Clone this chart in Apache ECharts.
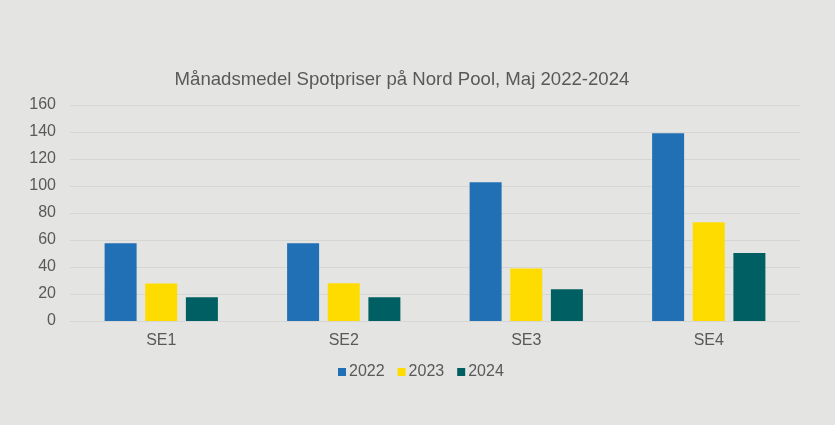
<!DOCTYPE html>
<html><head><meta charset="utf-8">
<script src="https://cdn.jsdelivr.net/npm/echarts@6/dist/echarts.min.js"></script>
<style>html,body{margin:0;padding:0;background:#e4e4e2;}#c{width:835px;height:425px;}</style>
</head><body><div id="c"></div>
<script>
const categories = ['SE1', 'SE2', 'SE3', 'SE4'];
const seriesNames = ['2022', '2023', '2024'];
const values2022 = [57.6, 57.6, 102.7, 139.0];
const values2023 = [27.7, 27.9, 38.9, 73.2];
const values2024 = [17.6, 17.6, 23.5, 50.4];
const colors = ['#2170b6', '#ffdc00', '#005f63'];
const allValues = [values2022, values2023, values2024];

const chart = echarts.init(document.getElementById('c'));
const font = 'Liberation Sans, Arial, sans-serif';
chart.setOption({
  backgroundColor: '#e4e4e2',
  animation: false,
  title: {
    text: 'Månadsmedel Spotpriser på Nord Pool, Maj 2022-2024',
    left: 397, top: 65, textAlign: 'center',
    textStyle: { fontFamily: font, fontSize: 18.6, fontWeight: 'normal', color: '#595959' }
  },
  legend: {
    data: seriesNames, left: 333, top: 359,
    itemWidth: 8, itemHeight: 8, itemGap: 13,
    icon: 'rect',
    textStyle: { fontFamily: font, fontSize: 16, color: '#595959', padding: [0,0,0,-2] }
  },
  grid: { left: 70, right: 35, top: 105, bottom: 104 },
  xAxis: {
    type: 'category', data: categories,
    axisLine: { lineStyle: { color: '#d6d6d4', width: 1 } },
    axisTick: { show: false },
    axisLabel: { fontFamily: font, fontSize: 16, color: '#595959', margin: 12 }
  },
  yAxis: {
    type: 'value', min: 0, max: 160, interval: 20,
    axisLine: { show: false }, axisTick: { show: false },
    splitLine: { lineStyle: { color: '#d6d6d4', width: 1 } },
    axisLabel: { fontFamily: font, fontSize: 16, color: '#595959', margin: 14 }
  },
  series: seriesNames.map((n, i) => ({
    name: n, type: 'bar', data: allValues[i], barWidth: 32, barGap: '27%',
    itemStyle: { color: colors[i] }
  }))
});
</script></body></html>
